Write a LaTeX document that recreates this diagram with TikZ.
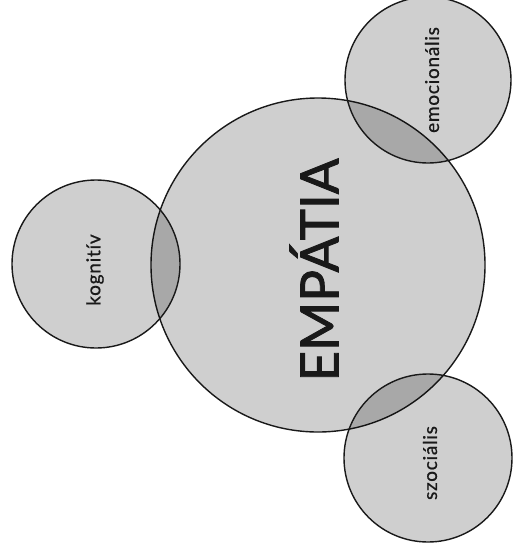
\documentclass[tikz,border=0pt]{standalone}
\usepackage{fontspec}
\setmainfont{Lato}
\newfontfamily\labelfont[LetterSpace=4,FakeBold=0.8,Ligatures=NoCommon]{Lato}
\newfontfamily\titlefont[FakeBold=1.6]{Lato}
\begin{document}
\begin{tikzpicture}[x=1pt,y=-1pt,
  blob/.style={circle,draw=black!90,line width=1.4pt,fill=black,fill opacity=0.19,text opacity=1,inner sep=0pt},
  smalltext/.style={rotate=90,font=\labelfont\fontsize{19}{22}\selectfont,text=black!90},
  bigtext/.style={rotate=90,font=\titlefont\fontsize{53}{60}\selectfont,text=black!90}]
\useasboundingbox (0,0) rectangle (512,560);
\node[blob,minimum size=334pt] (emp) at (318,265) {};
\node[blob,minimum size=168pt] (kog) at (96,264) {};
\node[blob,minimum size=166pt] (emo) at (428,80) {};
\node[blob,minimum size=168pt] (szo) at (428,458) {};
\node[bigtext] (empt) at (314,270) {EMPÁTIA};
\node[smalltext] (kogt) at (95,270) {kognitív};
\node[smalltext] (emot) at (432,80) {emocionális};
\node[smalltext] (szot) at (430,463) {szociális};
\end{tikzpicture}
\end{document}
